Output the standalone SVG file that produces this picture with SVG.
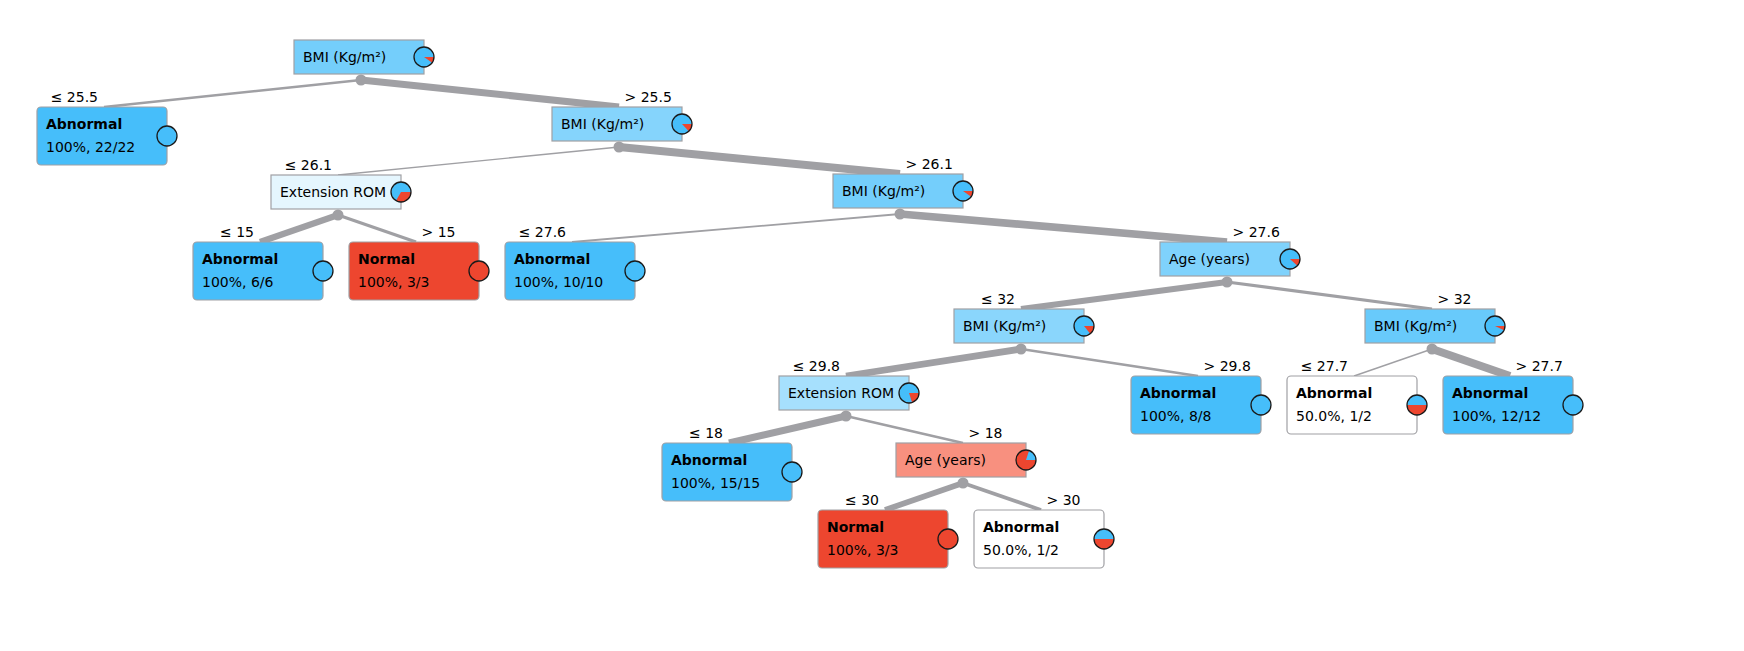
<svg xmlns="http://www.w3.org/2000/svg" width="1744" height="651" viewBox="0 0 1744 651">
<style>
text{font-family:"DejaVu Sans","Liberation Sans",sans-serif;font-size:14px;fill:#000}
.b{font-weight:bold}
.lbl{font-size:14px}
.end{text-anchor:end}
.box{stroke:#a0a0a4;stroke-width:1.2}
.leaf{stroke:#a0a0a4;stroke-width:1.2}
.e{stroke:#a0a0a4;fill:none;stroke-linecap:butt}
.dot{fill:#a0a0a4}
.pb{fill:#46befa}
.pr{fill:#ed462f}
.po{fill:none;stroke:#1a1a1a;stroke-width:1.3}
</style>
<rect width="1744" height="651" fill="#fff"/>
<g id="connectors">
<line class="e" x1="361" y1="80" x2="104" y2="107" stroke-width="2.5"/>
<line class="e" x1="361" y1="80" x2="619" y2="107" stroke-width="7"/>
<line class="e" x1="619" y1="147" x2="338" y2="175" stroke-width="1.4"/>
<line class="e" x1="619" y1="147" x2="900" y2="174" stroke-width="8"/>
<line class="e" x1="338" y1="215" x2="260" y2="242" stroke-width="6.3"/>
<line class="e" x1="338" y1="215" x2="416" y2="242" stroke-width="3.2"/>
<line class="e" x1="900" y1="214" x2="572" y2="242" stroke-width="1.8"/>
<line class="e" x1="900" y1="214" x2="1227" y2="242" stroke-width="7.7"/>
<line class="e" x1="1227" y1="282" x2="1021" y2="309" stroke-width="6.3"/>
<line class="e" x1="1227" y1="282" x2="1432" y2="309" stroke-width="3.2"/>
<line class="e" x1="1021" y1="349" x2="846" y2="376" stroke-width="6.8"/>
<line class="e" x1="1021" y1="349" x2="1198" y2="376" stroke-width="2.7"/>
<line class="e" x1="1432" y1="349" x2="1354" y2="376" stroke-width="1.4"/>
<line class="e" x1="1432" y1="349" x2="1510" y2="376" stroke-width="8"/>
<line class="e" x1="846" y1="416" x2="729" y2="443" stroke-width="7.1"/>
<line class="e" x1="846" y1="416" x2="963" y2="443" stroke-width="2.4"/>
<line class="e" x1="963" y1="483" x2="885" y2="510" stroke-width="5.7"/>
<line class="e" x1="963" y1="483" x2="1041" y2="510" stroke-width="3.8"/>
<circle class="dot" cx="361" cy="80" r="5.5"/>
<circle class="dot" cx="619" cy="147" r="5.5"/>
<circle class="dot" cx="338" cy="215" r="5.5"/>
<circle class="dot" cx="900" cy="214" r="5.5"/>
<circle class="dot" cx="1227" cy="282" r="5.5"/>
<circle class="dot" cx="1021" cy="349" r="5.5"/>
<circle class="dot" cx="1432" cy="349" r="5.5"/>
<circle class="dot" cx="846" cy="416" r="5.5"/>
<circle class="dot" cx="963" cy="483" r="5.5"/>
<text class="end" x="98" y="102">≤ 25.5</text>
<text x="624.5" y="102">&gt; 25.5</text>
<text class="end" x="332" y="170">≤ 26.1</text>
<text x="905.5" y="169">&gt; 26.1</text>
<text class="end" x="254" y="237">≤ 15</text>
<text x="421.5" y="237">&gt; 15</text>
<text class="end" x="566" y="237">≤ 27.6</text>
<text x="1232.5" y="237">&gt; 27.6</text>
<text class="end" x="1015" y="304">≤ 32</text>
<text x="1437.5" y="304">&gt; 32</text>
<text class="end" x="840" y="371">≤ 29.8</text>
<text x="1203.5" y="371">&gt; 29.8</text>
<text class="end" x="1348" y="371">≤ 27.7</text>
<text x="1515.5" y="371">&gt; 27.7</text>
<text class="end" x="723" y="438">≤ 18</text>
<text x="968.5" y="438">&gt; 18</text>
<text class="end" x="879" y="505">≤ 30</text>
<text x="1046.5" y="505">&gt; 30</text>
</g>
<g id="n1">
<rect class="box" x="294" y="40" width="130" height="34" fill="#74cefb"/>
<text x="303" y="62">BMI (Kg/m²)</text>
<circle class="pb" cx="424" cy="57" r="10"/>
<path class="pr" d="M424,57 L434,57 A10,10 0 0 1 432.22,62.69 Z"/>
<circle class="po" cx="424" cy="57" r="10"/>
</g>
<g id="n2">
<rect class="box" x="552" y="107" width="130" height="34" fill="#85d4fc"/>
<text x="561" y="129">BMI (Kg/m²)</text>
<circle class="pb" cx="682" cy="124" r="10"/>
<path class="pr" d="M682,124 L692,124 A10,10 0 0 1 688.79,131.34 Z"/>
<circle class="po" cx="682" cy="124" r="10"/>
</g>
<g id="n3">
<rect class="box" x="271" y="175" width="130" height="34" fill="#e5f6fe"/>
<text x="280" y="197">Extension ROM</text>
<circle class="pb" cx="401" cy="192" r="10"/>
<path class="pr" d="M401,192 L411,192 A10,10 0 0 1 396,200.66 Z"/>
<circle class="po" cx="401" cy="192" r="10"/>
</g>
<g id="n4">
<rect class="box" x="833" y="174" width="130" height="34" fill="#74cefb"/>
<text x="842" y="196">BMI (Kg/m²)</text>
<circle class="pb" cx="963" cy="191" r="10"/>
<path class="pr" d="M963,191 L973,191 A10,10 0 0 1 971.23,196.68 Z"/>
<circle class="po" cx="963" cy="191" r="10"/>
</g>
<g id="n5">
<rect class="box" x="1160" y="242" width="130" height="34" fill="#7fd2fc"/>
<text x="1169" y="264">Age (years)</text>
<circle class="pb" cx="1290" cy="259" r="10"/>
<path class="pr" d="M1290,259 L1300,259 A10,10 0 0 1 1297.32,265.81 Z"/>
<circle class="po" cx="1290" cy="259" r="10"/>
</g>
<g id="n6">
<rect class="box" x="954" y="309" width="130" height="34" fill="#8ad6fc"/>
<text x="963" y="331">BMI (Kg/m²)</text>
<circle class="pb" cx="1084" cy="326" r="10"/>
<path class="pr" d="M1084,326 L1094,326 A10,10 0 0 1 1090.24,333.81 Z"/>
<circle class="po" cx="1084" cy="326" r="10"/>
</g>
<g id="n7">
<rect class="box" x="1365" y="309" width="130" height="34" fill="#68cafb"/>
<text x="1374" y="331">BMI (Kg/m²)</text>
<circle class="pb" cx="1495" cy="326" r="10"/>
<path class="pr" d="M1495,326 L1505,326 A10,10 0 0 1 1504.01,330.34 Z"/>
<circle class="po" cx="1495" cy="326" r="10"/>
</g>
<g id="n8">
<rect class="box" x="779" y="376" width="130" height="34" fill="#a6e0fd"/>
<text x="788" y="398">Extension ROM</text>
<circle class="pb" cx="909" cy="393" r="10"/>
<path class="pr" d="M909,393 L919,393 A10,10 0 0 1 912.09,402.51 Z"/>
<circle class="po" cx="909" cy="393" r="10"/>
</g>
<g id="n9">
<rect class="box" x="896" y="443" width="130" height="34" fill="#f8907f"/>
<text x="905" y="465">Age (years)</text>
<circle class="pr" cx="1026" cy="460" r="10"/>
<path class="pb" d="M1026,460 L1029.09,450.49 A10,10 0 0 1 1036,460 Z"/>
<circle class="po" cx="1026" cy="460" r="10"/>
</g>
<g id="L1">
<rect class="leaf" x="37" y="107" width="130" height="58" rx="4" fill="#46befa"/>
<text class="b" x="46" y="129">Abnormal</text>
<text x="46" y="152">100%, 22/22</text>
<circle class="pb" cx="167" cy="136" r="10"/>
<circle class="po" cx="167" cy="136" r="10"/>
</g>
<g id="L2">
<rect class="leaf" x="193" y="242" width="130" height="58" rx="4" fill="#46befa"/>
<text class="b" x="202" y="264">Abnormal</text>
<text x="202" y="287">100%, 6/6</text>
<circle class="pb" cx="323" cy="271" r="10"/>
<circle class="po" cx="323" cy="271" r="10"/>
</g>
<g id="L3">
<rect class="leaf" x="349" y="242" width="130" height="58" rx="4" fill="#ed462f"/>
<text class="b" x="358" y="264">Normal</text>
<text x="358" y="287">100%, 3/3</text>
<circle class="pr" cx="479" cy="271" r="10"/>
<circle class="po" cx="479" cy="271" r="10"/>
</g>
<g id="L4">
<rect class="leaf" x="505" y="242" width="130" height="58" rx="4" fill="#46befa"/>
<text class="b" x="514" y="264">Abnormal</text>
<text x="514" y="287">100%, 10/10</text>
<circle class="pb" cx="635" cy="271" r="10"/>
<circle class="po" cx="635" cy="271" r="10"/>
</g>
<g id="L5">
<rect class="leaf" x="1131" y="376" width="130" height="58" rx="4" fill="#46befa"/>
<text class="b" x="1140" y="398">Abnormal</text>
<text x="1140" y="421">100%, 8/8</text>
<circle class="pb" cx="1261" cy="405" r="10"/>
<circle class="po" cx="1261" cy="405" r="10"/>
</g>
<g id="L6">
<rect class="leaf" x="1287" y="376" width="130" height="58" rx="4" fill="#fff"/>
<text class="b" x="1296" y="398">Abnormal</text>
<text x="1296" y="421">50.0%, 1/2</text>
<circle class="pb" cx="1417" cy="405" r="10"/>
<path class="pr" d="M1407,405 L1427,405 A10,10 0 0 1 1407,405 Z"/>
<circle class="po" cx="1417" cy="405" r="10"/>
</g>
<g id="L7">
<rect class="leaf" x="1443" y="376" width="130" height="58" rx="4" fill="#46befa"/>
<text class="b" x="1452" y="398">Abnormal</text>
<text x="1452" y="421">100%, 12/12</text>
<circle class="pb" cx="1573" cy="405" r="10"/>
<circle class="po" cx="1573" cy="405" r="10"/>
</g>
<g id="L8">
<rect class="leaf" x="662" y="443" width="130" height="58" rx="4" fill="#46befa"/>
<text class="b" x="671" y="465">Abnormal</text>
<text x="671" y="488">100%, 15/15</text>
<circle class="pb" cx="792" cy="472" r="10"/>
<circle class="po" cx="792" cy="472" r="10"/>
</g>
<g id="L9">
<rect class="leaf" x="818" y="510" width="130" height="58" rx="4" fill="#ed462f"/>
<text class="b" x="827" y="532">Normal</text>
<text x="827" y="555">100%, 3/3</text>
<circle class="pr" cx="948" cy="539" r="10"/>
<circle class="po" cx="948" cy="539" r="10"/>
</g>
<g id="L10">
<rect class="leaf" x="974" y="510" width="130" height="58" rx="4" fill="#fff"/>
<text class="b" x="983" y="532">Abnormal</text>
<text x="983" y="555">50.0%, 1/2</text>
<circle class="pb" cx="1104" cy="539" r="10"/>
<path class="pr" d="M1094,539 L1114,539 A10,10 0 0 1 1094,539 Z"/>
<circle class="po" cx="1104" cy="539" r="10"/>
</g>
</svg>
